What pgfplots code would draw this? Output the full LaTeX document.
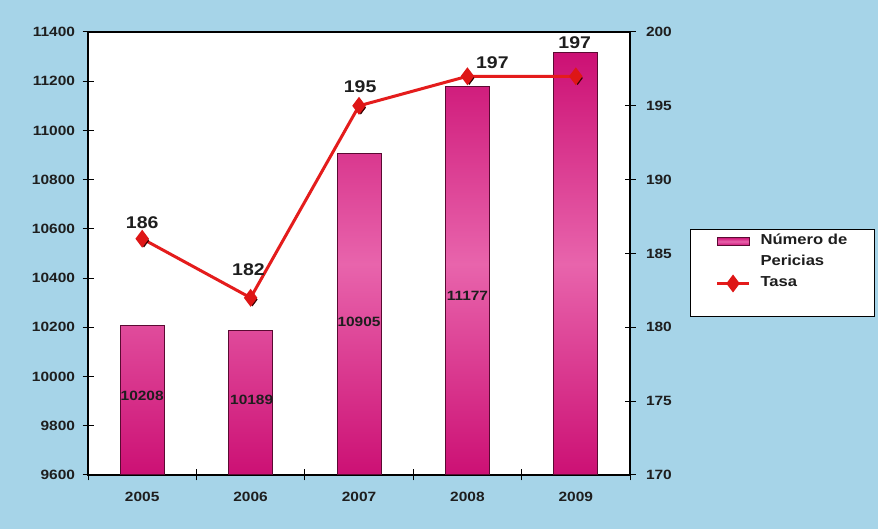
\documentclass[border=0pt]{standalone}
\usepackage{fontspec}
\setmainfont{Liberation Sans}[FakeStretch=1.15]
\usepackage{pgfplots}
\pgfplotsset{compat=1.18}
\definecolor{bgblue}{RGB}{166,212,232}
\definecolor{barDark}{RGB}{204,16,116}
\definecolor{barLight}{RGB}{232,100,172}
\definecolor{barEdge}{RGB}{90,10,50}
\definecolor{lineRed}{RGB}{228,28,28}
\definecolor{markRed}{RGB}{222,22,22}
\definecolor{txt}{RGB}{30,30,30}
\newcommand{\tickfont}{\fontsize{13.5}{15}\selectfont\bfseries}
\newcommand{\legfont}{\fontsize{14.5}{21}\selectfont\bfseries}
\newcommand{\bigfont}{\fontsize{17}{19}\selectfont\bfseries}
\begin{document}
\begin{tikzpicture}[x=1bp,y=1bp]
\useasboundingbox (0,0) rectangle (878,529);
\fill[bgblue] (0,0) rectangle (878,529);
\begin{axis}[
  at={(88bp,54bp)}, anchor=south west,
  width=542bp, height=443bp, scale only axis,
  xmin=-0.5, xmax=4.5, ymin=9600, ymax=11400,
  ytick={9600,9800,...,11400},
  scaled ticks=false,
  yticklabel={\pgfmathprintnumber[fixed,precision=0,1000 sep={}]{\tick}},
  xtick={-0.5,0.5,1.5,2.5,3.5,4.5}, xticklabels={},
  extra x ticks={0,1,2,3,4},
  extra x tick labels={2005,2006,2007,2008,2009},
  extra x tick style={major tick length=0pt, xticklabel style={yshift=-14bp}},
  xtick pos=bottom, ytick pos=left,
  tick align=center, major tick length=11bp,
  tick style={black, line width=1bp},
  axis line style={black, line width=1.2bp},
  ticklabel style={font=\tickfont, text=txt},
  yticklabel style={xshift=-4bp},
  /pgf/number format/assume math mode=true,
  /pgf/number format/1000 sep={},
  axis background/.style={fill=white},
]
\addplot[ybar, bar width=44bp, draw=barEdge, line width=1bp,
  top color=barDark, bottom color=barDark, middle color=barLight]
  coordinates {(0,10208) (1,10189) (2,10905) (3,11177) (4,11315)};
\node[font=\tickfont, text=txt] at (axis cs:0,9921) {10208};
\node[font=\tickfont, text=txt] at (axis cs:1.01,9905) {10189};
\node[font=\tickfont, text=txt] at (axis cs:2,10222) {10905};
\node[font=\tickfont, text=txt] at (axis cs:3,10327) {11177};
\end{axis}
\begin{axis}[
  at={(88bp,54bp)}, anchor=south west,
  width=542bp, height=443bp, scale only axis,
  xmin=-0.5, xmax=4.5, ymin=170, ymax=200,
  ytick={170,175,...,200},
  axis y line*=right, axis x line=none,
  tick align=center, major tick length=11bp,
  tick style={black, line width=1bp},
  axis line style={black, line width=1.2bp},
  ticklabel style={font=\tickfont, text=txt},
  yticklabel style={xshift=7bp},
  /pgf/number format/assume math mode=true,
  legend cell align=left,
  legend style={at={(1.1107,0.5553)}, anchor=north west,
    draw=black, line width=1bp, fill=white,
    font=\legfont, text=txt,
    inner xsep=25bp, inner ysep=1.5bp,
    nodes={inner ysep=0bp, text height=14bp, text depth=7bp},
    row sep=0bp, column sep=8bp},
]
\addlegendimage{legend image code/.code={
  \draw[draw=barEdge, line width=1bp, top color=barDark, bottom color=barDark, middle color=barLight] (0bp,-4bp) rectangle (32bp,4bp);}}
\addlegendentry{Número de}
\addlegendimage{empty legend}
\addlegendentry{Pericias}
\addplot[only marks, mark=diamond*, mark size=6.5bp, forget plot,
  mark options={fill=black!80!red, draw=black!80!red}, xshift=1.8bp, yshift=-1.8bp]
  coordinates {(0,186) (1,182) (2,195) (3,197) (4,197)};
\addplot[lineRed, line width=3bp, mark=diamond*, mark size=6.5bp,
  mark options={fill=markRed, draw=markRed},
  legend image code/.code={\draw[mark repeat=2,mark phase=2] plot coordinates {(0bp,0bp) (16bp,0bp) (32bp,0bp)};}]
  coordinates {(0,186) (1,182) (2,195) (3,197) (4,197)};
\addlegendentry{Tasa}
\addlegendimage{empty legend}
\addlegendentry{}
\node[font=\bigfont, text=txt] at (axis cs:0,187.1) {186};
\node[font=\bigfont, text=txt] at (axis cs:0.98,183.9) {182};
\node[font=\bigfont, text=txt] at (axis cs:2.01,196.3) {195};
\node[font=\bigfont, text=txt] at (axis cs:3.23,197.9) {197};
\node[font=\bigfont, text=txt] at (axis cs:3.99,199.3) {197};
\end{axis}
\end{tikzpicture}
\end{document}
